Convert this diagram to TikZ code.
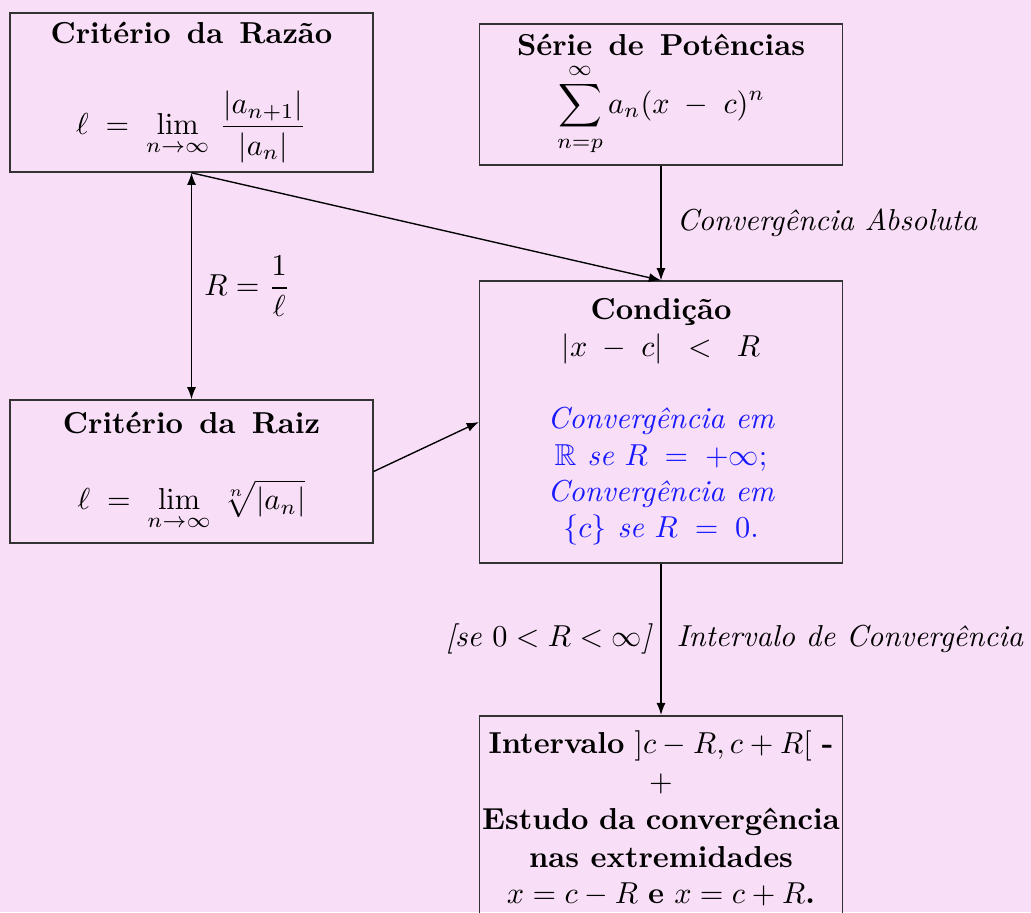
\documentclass[tikz,border=0pt]{standalone}
\usepackage{amsmath,amssymb}
\usetikzlibrary{arrows.meta}
\definecolor{bgcol}{RGB}{248,222,246}
\definecolor{bluetxt}{RGB}{25,25,255}
\tikzset{
  box/.style={draw=black!80, line width=0.5pt, align=flush center, text width=118pt, inner xsep=0.8pt, inner ysep=3pt, minimum width=119.7pt},
  conn/.style={-{Latex[length=4pt,width=3pt]}, line width=0.45pt},
  dconn/.style={{Latex[length=4pt,width=3pt]}-{Latex[length=4pt,width=3pt]}, line width=0.45pt},
  lbl/.style={font=\itshape, inner sep=2pt}
}
\begin{document}
\begin{tikzpicture}[x=0.33pt, y=-0.33pt]
\fill[bgcol] (0,0) rectangle (1031,912);
\useasboundingbox (0,0) rectangle (1031,912);

\node[box, minimum height=52.5pt] (razao) at (191.5,92.5)
  {\textbf{Crit\'erio\hspace{1.5pt} da\hspace{1.5pt} Raz\~ao}\\[14.5pt]
   $\ell \;=\; \displaystyle\lim_{n\to\infty}\,\frac{|a_{n+1}|}{|a_n|}$};

\node[box, minimum height=46.5pt] (serie) at (661,94.5)
  {\textbf{S\'erie\hspace{1.5pt} de\hspace{1.5pt} Pot\^encias}\\[1.5pt]
   $\displaystyle\sum_{n=p}^{\infty} a_n(x\;-\;c)^n$};

\node[box, minimum height=93pt] (cond) at (661,422)
  {\textbf{Condi\c{c}\~ao}\\
   $|x\;-\;c|\;\;<\;\;R$\\[12pt]
   \color{bluetxt}\itshape Converg\^encia em\\
   $\mathbb{R}$ se $R\;=\;+\infty;$\\
   Converg\^encia em\\
   $\{c\}$ se $R\;=\;0.$};

\node[box, minimum height=47.2pt] (raiz) at (191.5,471.5)
  {\textbf{Crit\'erio\hspace{1.5pt} da\hspace{1.5pt} Raiz}\\[13pt]
   $\ell \;=\; \displaystyle\lim_{n\to\infty}\,\sqrt[n]{|a_n|}$};

\node[box, anchor=north, inner ysep=5pt] (interv) at (661,715)
  {\baselineskip=12.5pt
   \textbf{Intervalo} $]c-R,c+R[$ \textbf{-}\\
   $+$\\
   \textbf{Estudo da converg\^encia}\\
   \textbf{nas extremidades}\\
   $x=c-R$ \textbf{e} $x=c+R$\textbf{.}};

\draw[dconn] (razao.south) -- node[right=3pt, inner sep=1pt] {$R=\dfrac{1}{\ell}$} (raiz.north);
\draw[conn] (razao.south) -- (cond.north);
\draw[conn] (serie.south) -- node[lbl, right=3pt] {Converg\^encia Absoluta} (cond.north);
\draw[conn] (raiz.east) -- (cond.west);
\draw[conn] (cond.south) -- node[lbl, right=3pt] {Intervalo de Converg\^encia}
  node[lbl, left=1pt] {[se $0<R<\infty$]} (interv.north);
\end{tikzpicture}
\end{document}
